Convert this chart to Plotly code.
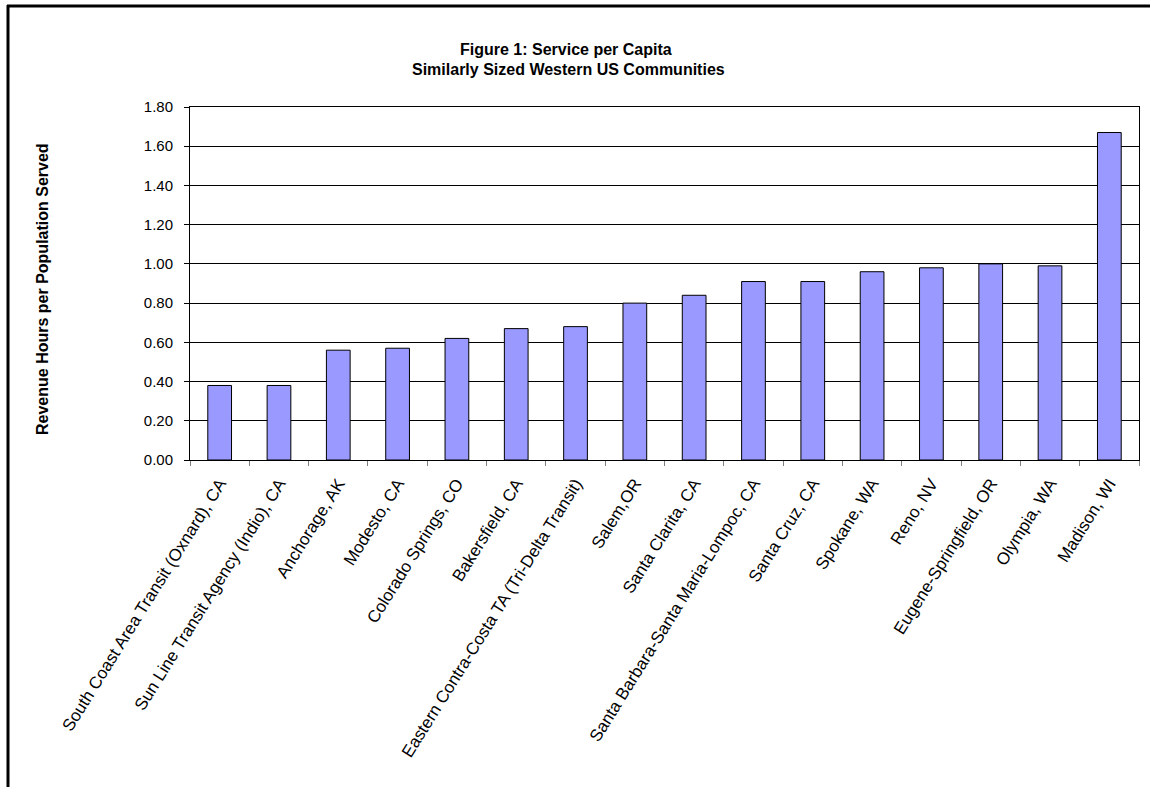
import plotly.graph_objects as go

categories = [
    "South Coast Area Transit (Oxnard), CA",
    "Sun Line Transit Agency (Indio), CA",
    "Anchorage, AK",
    "Modesto, CA",
    "Colorado Springs, CO",
    "Bakersfield, CA",
    "Eastern Contra-Costa TA (Tri-Delta Transit)",
    "Salem,OR",
    "Santa Clarita, CA",
    "Santa Barbara-Santa Maria-Lompoc, CA",
    "Santa Cruz, CA",
    "Spokane, WA",
    "Reno, NV",
    "Eugene-Springfield, OR",
    "Olympia, WA",
    "Madison, WI",
]
values = [0.38, 0.38, 0.56, 0.57, 0.62, 0.67, 0.68, 0.80, 0.84, 0.91, 0.91, 0.96, 0.98, 1.00, 0.99, 1.67]
y_ticks = [0.0, 0.2, 0.4, 0.6, 0.8, 1.0, 1.2, 1.4, 1.6, 1.8]

W, H = 1157, 787
L, R, T, B = 190, 18, 107, 327
PW, PH = W - L - R, H - T - B

def px(x):
    return (x - L) / PW

def py(y):
    return (H - B - y) / PH

FONT = "Liberation Sans, Arial, sans-serif"

fig = go.Figure(
    go.Bar(
        x=categories,
        y=values,
        marker=dict(color="#9999FF", line=dict(color="#000000", width=1)),
        hoverinfo="x+y",
    )
)

fig.update_layout(
    width=W,
    height=H,
    margin=dict(l=L, r=R, t=T, b=B, autoexpand=False),
    paper_bgcolor="white",
    plot_bgcolor="white",
    bargap=0.6,
    showlegend=False,
    font=dict(family=FONT, size=15, color="black"),
)

fig.update_xaxes(
    type="category",
    tickangle=-58,
    tickson="boundaries",
    ticks="outside",
    ticklen=5,
    tickcolor="#808080",
    showline=True,
    linecolor="black",
    linewidth=1,
    mirror=True,
    showgrid=False,
    ticklabelstandoff=6,
    tickfont=dict(family=FONT, size=17, color="black"),
)

fig.update_yaxes(
    range=[0, 1.8],
    tickvals=y_ticks,
    ticktext=[f"{v:.2f}" for v in y_ticks],
    ticks="outside",
    ticklen=5,
    tickcolor="black",
    showline=True,
    linecolor="black",
    linewidth=1,
    mirror=True,
    showgrid=True,
    gridcolor="black",
    gridwidth=1,
    zeroline=False,
    ticklabelstandoff=8,
    tickfont=dict(family=FONT, size=15, color="black"),
)

annotations = [
    dict(
        text="<b>Figure 1: Service per Capita</b>",
        x=px(566), y=py(50), xref="paper", yref="paper",
        showarrow=False, xanchor="center", yanchor="middle",
        font=dict(family=FONT, size=16, color="black"),
    ),
    dict(
        text="<b>Similarly Sized Western US Communities</b>",
        x=px(568), y=py(69), xref="paper", yref="paper",
        showarrow=False, xanchor="center", yanchor="middle",
        font=dict(family=FONT, size=16, color="black"),
    ),
    dict(
        text="<b>Revenue Hours per Population Served</b>",
        x=px(42), y=py(289), xref="paper", yref="paper",
        showarrow=False, xanchor="center", yanchor="middle", textangle=-90,
        font=dict(family=FONT, size=16, color="black"),
    ),
]
fig.update_layout(annotations=annotations)

shapes = [
    dict(type="line", xref="paper", yref="paper",
         x0=px(7), x1=px(1150), y0=py(6), y1=py(6),
         line=dict(color="black", width=3)),
    dict(type="line", xref="paper", yref="paper",
         x0=px(8), x1=px(8), y0=py(5), y1=py(790),
         line=dict(color="black", width=3)),
]
fig.update_layout(shapes=shapes)

fig.write_html(
    "out.html",
    config={"displayModeBar": False},
    post_script="document.body.style.margin='0px';document.body.style.overflow='hidden';",
)
